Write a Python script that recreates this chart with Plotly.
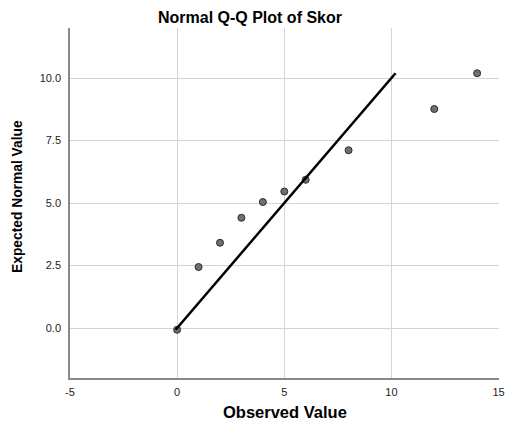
import plotly.graph_objects as go

# Data
observed = [0, 1, 2, 3, 4, 5, 6, 8, 12, 14]
expected = [-0.07, 2.44, 3.41, 4.41, 5.04, 5.46, 5.93, 7.11, 8.76, 10.19]
x_ticks = [-5, 0, 5, 10, 15]
y_ticks = [0.0, 2.5, 5.0, 7.5, 10.0]

title_text = "Normal Q-Q Plot of Skor"
x_title = "Observed Value"
y_title = "Expected Normal Value"

line_lo = min(expected)
line_hi = max(expected)

fig = go.Figure()
fig.add_trace(go.Scatter(
    x=observed, y=expected, mode="markers",
    marker=dict(size=7, color="#707070", line=dict(color="#2b2b2b", width=1)),
    showlegend=False, hoverinfo="x+y"))
fig.add_trace(go.Scatter(
    x=[line_lo, line_hi], y=[line_lo, line_hi], mode="lines",
    line=dict(color="black", width=2.6), showlegend=False))

font_family = "Liberation Sans, Arial, sans-serif"
fig.update_layout(
    width=505, height=421,
    margin=dict(l=70, r=6, t=28, b=43),
    paper_bgcolor="white", plot_bgcolor="white",
    font=dict(family=font_family, color="black"),
    title=dict(text="<b>" + title_text + "</b>", x=0.495, xref="container", xanchor="center",
               y=1 - 17 / 421, yref="container", yanchor="middle",
               font=dict(size=16, family=font_family, color="black")),
    xaxis=dict(range=[-5, 15.02], tickvals=x_ticks, ticktext=[str(v) for v in x_ticks],
               showgrid=True, gridcolor="#d4d4d4", gridwidth=1,
               showline=True, linecolor="#8a8a8a", linewidth=1.5,
               zeroline=False, ticks="", ticklabelstandoff=3,
               ticklabeloverflow="allow", automargin=False,
               tickfont=dict(size=11, color="#222222")),
    yaxis=dict(range=[-2, 12], tickvals=y_ticks, ticktext=["%.1f" % v for v in y_ticks],
               showgrid=True, gridcolor="#d4d4d4", gridwidth=1,
               showline=True, linecolor="#8a8a8a", linewidth=1.5,
               zeroline=False, ticks="", ticklabelstandoff=5, automargin=False,
               tickfont=dict(size=11, color="#222222")),
    annotations=[
        dict(text="<b>" + x_title + "</b>", xref="paper", yref="paper", x=0.5, y=0,
             yshift=-34, xanchor="center", yanchor="middle", showarrow=False,
             font=dict(size=16.5, family=font_family, color="black")),
        dict(text="<b>" + y_title + "</b>", xref="paper", yref="paper", x=0, y=0.5,
             xshift=-53, yshift=6, textangle=-90, xanchor="center", yanchor="middle",
             showarrow=False, font=dict(size=13.8, family=font_family, color="black")),
    ],
)

fig.write_html("out.html", config={"displayModeBar": False},
               post_script="document.body.style.margin='0';document.body.style.overflow='hidden';")
